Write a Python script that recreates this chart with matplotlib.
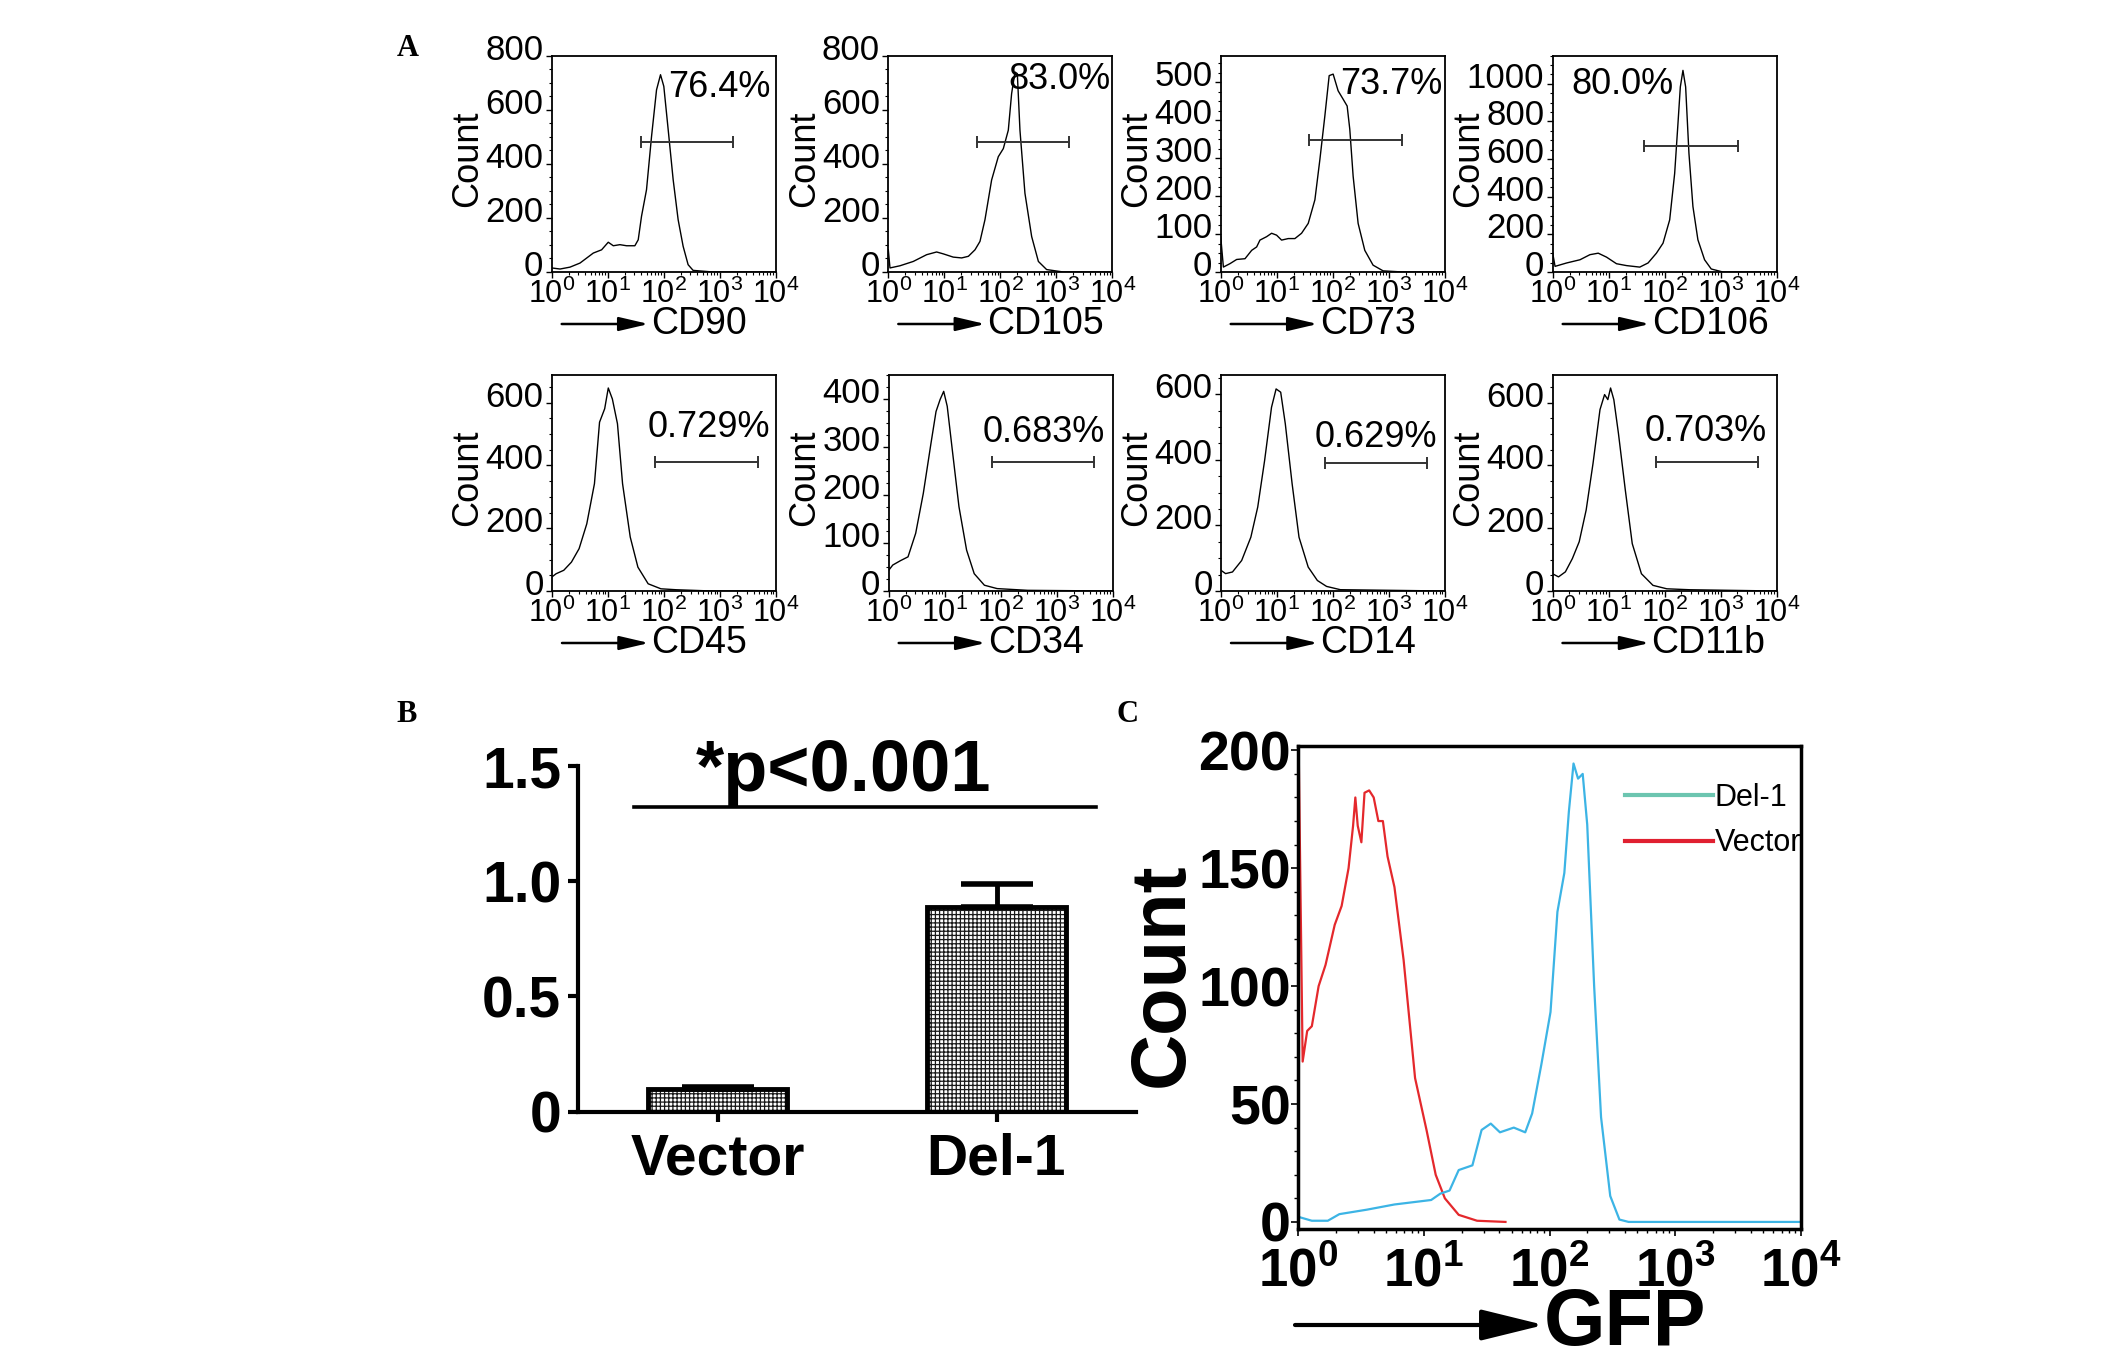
import numpy as np
import matplotlib
matplotlib.use('Agg')
import matplotlib.pyplot as plt
import matplotlib.transforms as mtransforms
from matplotlib.ticker import MultipleLocator, LogLocator, NullFormatter
from matplotlib.patches import FancyArrowPatch
from matplotlib.lines import Line2D

plt.rcParams['font.family'] = ['Liberation Sans', 'DejaVu Sans']
plt.rcParams['mathtext.fontset'] = 'custom'
plt.rcParams['mathtext.rm'] = 'Liberation Sans'
plt.rcParams['mathtext.bf'] = 'Liberation Sans:bold'
plt.rcParams['hatch.linewidth'] = 0.9

W, H = 2126, 1366

# ---------- A: flow histograms (x in decades of log10 fluorescence, y = count)
markers = ['CD90', 'CD105', 'CD73', 'CD106', 'CD45', 'CD34', 'CD14', 'CD11b']
percents = ['76.4%', '83.0%', '73.7%', '80.0%', '0.729%', '0.683%', '0.629%', '0.703%']

cd90_dec = [0, 0.149, 0.327, 0.505, 0.743, 0.891, 1.01, 1.1, 1.218, 1.337, 1.485, 1.545, 1.604, 1.693,
            1.783, 1.872, 1.943, 2.002, 2.08, 2.169, 2.258, 2.347, 2.436, 2.525, 2.88, 4.0]
cd90_cnt = [15, 11, 18, 33, 70, 82, 110, 97, 101, 97, 97, 119, 206, 304, 501, 673, 729, 686, 526, 341,
            193, 95, 27, 6, 0, 0]
cd105_dec = [0, 0.03, 0.208, 0.446, 0.685, 0.863, 0.982, 1.16, 1.31, 1.43, 1.548, 1.637, 1.726, 1.845,
             1.964, 2.054, 2.143, 2.202, 2.262, 2.304, 2.351, 2.44, 2.56, 2.68, 2.827, 3.125, 4.0]
cd105_cnt = [82, 15, 23, 39, 64, 74, 67, 55, 52, 58, 82, 113, 193, 340, 426, 456, 524, 659, 739, 733,
             524, 291, 131, 39, 9, 0, 0]
cd73_dec = [0, 0.048, 0.166, 0.285, 0.434, 0.553, 0.642, 0.701, 0.82, 0.909, 0.998, 1.087, 1.206, 1.325,
            1.444, 1.563, 1.682, 1.771, 1.86, 1.937, 2.008, 2.097, 2.186, 2.258, 2.305, 2.365, 2.454,
            2.573, 2.721, 2.9, 3.256, 4.0]
cd73_cnt = [93, 13, 22, 33, 35, 57, 66, 84, 93, 102, 97, 84, 88, 88, 102, 128, 190, 296, 411, 517, 521,
            477, 455, 437, 376, 252, 128, 57, 18, 3, 0, 0]
cd106_dec = [0, 0.042, 0.249, 0.487, 0.665, 0.813, 0.961, 1.139, 1.318, 1.555, 1.703, 1.852, 1.97,
             2.089, 2.178, 2.237, 2.279, 2.326, 2.374, 2.433, 2.504, 2.593, 2.712, 2.831, 3.039, 4.0]
cd106_cnt = [100, 30, 48, 65, 92, 100, 79, 44, 34, 26, 48, 100, 153, 277, 524, 789, 983, 1071, 983, 630,
             348, 171, 65, 16, 0, 0]
cd45_dec = [0, 0.073, 0.21, 0.347, 0.484, 0.621, 0.758, 0.849, 0.941, 1.005, 1.078, 1.169, 1.26, 1.397,
            1.534, 1.717, 1.945, 2.219, 2.858, 4.0]
cd45_cnt = [45, 55, 66, 92, 135, 214, 342, 538, 581, 647, 612, 533, 342, 172, 76, 23, 7, 4, 0, 0]
cd34_dec = [0, 0.073, 0.209, 0.345, 0.482, 0.618, 0.755, 0.845, 0.918, 0.982, 1.045, 1.136, 1.255,
            1.391, 1.527, 1.709, 1.936, 2.482, 4.0]
cd34_cnt = [43, 54, 63, 71, 120, 203, 307, 373, 398, 415, 384, 293, 175, 85, 36, 12, 5, 1.4, 0]
cd14_dec = [0, 0.082, 0.205, 0.369, 0.533, 0.656, 0.779, 0.902, 0.984, 1.066, 1.148, 1.27, 1.393,
            1.557, 1.721, 1.885, 2.131, 4.0]
cd14_cnt = [63, 53, 58, 93, 164, 256, 398, 560, 616, 606, 510, 327, 164, 73, 32, 14, 4, 0]
cd11b_dec = [0, 0.107, 0.23, 0.354, 0.477, 0.601, 0.724, 0.848, 0.93, 0.988, 1.037, 1.095, 1.177, 1.3,
             1.424, 1.588, 1.794, 2.041, 2.453, 4.0]
cd11b_cnt = [55, 45, 61, 103, 157, 258, 407, 578, 626, 610, 647, 610, 503, 322, 151, 55, 18, 7, 4, 0]

a_dec = [cd90_dec, cd105_dec, cd73_dec, cd106_dec, cd45_dec, cd34_dec, cd14_dec, cd11b_dec]
a_cnt = [cd90_cnt, cd105_cnt, cd73_cnt, cd106_cnt, cd45_cnt, cd34_cnt, cd14_cnt, cd11b_cnt]

gate_lo = [40, 38, 38, 42, 70, 70, 72, 70]
gate_hi = [1700, 1680, 1750, 2000, 4700, 4600, 4700, 4700]
gate_y = [482, 482, 348, 668, 411, 269, 390, 411]
y_max = [800, 800, 570, 1150, 690, 450, 660, 690]
y_step = [200, 200, 100, 200, 200, 100, 200, 200]

fl_ticks = [1, 10, 100, 1000, 10000]
fl_labels = [r'$\mathregular{10^0}$', r'$\mathregular{10^1}$', r'$\mathregular{10^2}$',
             r'$\mathregular{10^3}$', r'$\mathregular{10^4}$']
fl_labels_bold = [r'$\mathbf{10^0}$', r'$\mathbf{10^1}$', r'$\mathbf{10^2}$',
                  r'$\mathbf{10^3}$', r'$\mathbf{10^4}$']

# ---------- B: bar chart
groups = ['Vector', 'Del-1']
ratio = [0.098, 0.89]
ratio_err = [0.008, 0.098]
b_yticks = [0, 0.5, 1.0, 1.5]
b_ylabels = ['0', '0.5', '1.0', '1.5']

# ---------- C: GFP histograms
vec_dec = [0.0, 0.007, 0.037, 0.073, 0.11, 0.164, 0.219, 0.292, 0.347, 0.402, 0.438, 0.456, 0.475, 0.504,
           0.529, 0.566, 0.602, 0.639, 0.675, 0.712, 0.767, 0.84, 0.931, 1.022, 1.095, 1.168, 1.278,
           1.424, 1.65]
vec_cnt = [200, 194, 68, 81, 83, 100, 109, 126, 134, 150, 168, 180, 168, 161, 182, 183, 180, 170, 170,
           155, 142, 111, 61, 39, 20, 10, 3, 0.5, 0]
del_dec = [0.0, 0.11, 0.237, 0.329, 0.548, 0.767, 1.059, 1.132, 1.205, 1.278, 1.387, 1.46, 1.533, 1.606,
           1.716, 1.807, 1.862, 1.935, 2.008, 2.063, 2.118, 2.154, 2.191, 2.227, 2.264, 2.3, 2.355, 2.41,
           2.483, 2.556, 2.629, 4.0]
del_cnt = [2.2, 0.5, 0.5, 3.3, 5.2, 7.4, 9.3, 12, 13.3, 22, 24, 39, 41.7, 38, 40, 38, 46, 66.7, 89,
           131.5, 148, 174, 194.4, 188, 190, 168.5, 100, 44.4, 11, 1, 0, 0]
c_yticks = [0, 50, 100, 150, 200]


def fxy(x, y):
    # pixel position (from top-left) -> figure fraction
    return x / W, 1 - y / H


def add_ax(left, top, w, h):
    return fig.add_axes([left / W, 1 - (top + h) / H, w / W, h / H])


def arrow(x0, x1, y, lw, ms, hl, hw):
    fig.add_artist(FancyArrowPatch(fxy(x0, y), fxy(x1, y), transform=fig.transFigure,
                                   arrowstyle=f'-|>,head_length={hl},head_width={hw}',
                                   mutation_scale=ms, lw=lw, color='black',
                                   shrinkA=0, shrinkB=0))


fig = plt.figure(figsize=(W / 100, H / 100), dpi=100)
# FlowJo puts the count labels a little above their ticks
lift = mtransforms.ScaledTranslation(0, 9 / 100, fig.dpi_scale_trans)

a_left = [[551.7, 888.3, 1220.7, 1552.7], [552.0, 888.7, 1221.0, 1552.5]]
a_top = [55.5, 374.5]
a_w, a_h = 224, 216.5
pct_x = [0.975, 0.99, 0.988, 0.54, 0.973, 0.963, 0.964, 0.958]
pct_y = [0.85, 0.887, 0.864, 0.864, 0.753, 0.73, 0.71, 0.737]

for i, m in enumerate(markers):
    row, col = divmod(i, 4)
    l, t = a_left[row][col], a_top[row]
    ax = add_ax(l, t, a_w, a_h)
    ax.plot(10 ** np.array(a_dec[i]), a_cnt[i], color='black', lw=1.0)
    ax.plot([gate_lo[i], gate_hi[i]], [gate_y[i], gate_y[i]], color='#333333', lw=1.4,
            marker='|', ms=8, mew=1.4)
    ax.set_xscale('log')
    ax.set_xlim(1, 1e4)
    ax.set_ylim(0, y_max[i])
    ax.set_xticks(fl_ticks)
    ax.set_xticklabels(fl_labels, fontsize=22)
    ax.xaxis.set_minor_locator(LogLocator(base=10, subs=np.arange(2, 10)))
    ax.xaxis.set_minor_formatter(NullFormatter())
    yt = np.arange(0, y_max[i] + 1, y_step[i])
    ax.set_yticks(yt)
    ax.set_yticklabels([str(int(v)) for v in yt], fontsize=25)
    ax.yaxis.set_minor_locator(MultipleLocator(y_step[i] / 4))
    ax.tick_params(which='major', length=4, width=1, pad=2)
    ax.tick_params(axis='x', pad=1)
    ax.tick_params(which='minor', length=2, width=0.8)
    for lab in ax.get_yticklabels():
        lab.set_transform(lab.get_transform() + lift)
    for s in ax.spines.values():
        s.set_linewidth(1.3)
    ax.text(pct_x[i], pct_y[i], percents[i], transform=ax.transAxes, ha='right', va='center',
            fontsize=26)
    fig.text(*fxy(l - 84, t + 103), 'Count', rotation=90, ha='center', va='center', fontsize=26)
    yl = t + a_h + 52
    arrow(l + 10, l + 97, yl, 1.8, 12, 1.5, 0.35)
    fig.text(*fxy(l + 99, yl), m, ha='left', va='center', fontsize=27)

# ---------- panel B
axb = add_ax(578, 766, 558, 345.7)
xpos = np.arange(len(groups))
axb.bar(xpos, ratio, width=0.5, color='white', edgecolor='#1a1a1a', hatch='++++', linewidth=0,
        zorder=2)
axb.bar(xpos, ratio, width=0.5, fill=False, edgecolor='black', linewidth=3.5, zorder=3)
axb.errorbar(xpos, ratio, yerr=[[0, 0], ratio_err], fmt='none', ecolor='black', elinewidth=3.5,
             capsize=26, capthick=4, zorder=4)
axb.set_xlim(-0.5, 1.5)
axb.set_ylim(0, 1.5)
axb.set_xticks(xpos)
axb.set_xticklabels(groups, fontsize=41, fontweight='bold')
axb.set_yticks(b_yticks)
axb.set_yticklabels(b_ylabels, fontsize=41, fontweight='bold')
axb.tick_params(axis='both', length=7, width=3)
axb.tick_params(axis='x', pad=8)
axb.tick_params(axis='y', pad=5)
for s in ['top', 'right']:
    axb.spines[s].set_visible(False)
for s in ['left', 'bottom']:
    axb.spines[s].set_linewidth(3)
axb.plot([-0.30, 1.356], [1.323, 1.323], color='black', lw=2.6, clip_on=False)
axb.text(0.45, 1.393, '*p<0.001', ha='center', va='baseline', fontsize=52, fontweight='bold',
         clip_on=False)

# ---------- panel C
axc = add_ax(1298, 745.6, 503, 483.4)
axc.plot(10 ** np.array(vec_dec), vec_cnt, color='#e4282c', lw=1.6)
axc.plot(10 ** np.array(del_dec), del_cnt, color='#3cb4e5', lw=1.6)
axc.set_xscale('log')
axc.set_xlim(1, 1e4)
axc.set_ylim(-3, 202)
axc.set_xticks(fl_ticks)
axc.set_xticklabels(fl_labels_bold, fontsize=38)
axc.xaxis.set_minor_locator(LogLocator(base=10, subs=np.arange(2, 10)))
axc.xaxis.set_minor_formatter(NullFormatter())
axc.set_yticks(c_yticks)
axc.set_yticklabels([str(v) for v in c_yticks], fontsize=40, fontweight='bold')
axc.yaxis.set_minor_locator(MultipleLocator(10))
axc.tick_params(which='major', length=5, width=1.2)
axc.tick_params(axis='x', pad=8)
axc.tick_params(axis='y', pad=0)
axc.tick_params(which='minor', length=3, width=1)
for s in axc.spines.values():
    s.set_linewidth(2.5)
handles = [Line2D([], [], color='#6cc5b0', lw=3), Line2D([], [], color='#e02030', lw=3)]
axc.legend(handles, ['Del-1', 'Vector'], loc='upper left', bbox_to_anchor=(0.625, 0.948),
           frameon=False, fontsize=22, handlelength=2.9, handletextpad=0.05, labelspacing=0.5,
           borderaxespad=0)
fig.text(*fxy(1162, 975), 'Count', rotation=90, ha='center', va='center', fontsize=56,
         fontweight='bold')
arrow(1295, 1544, 1325, 3, 30, 1.3, 0.32)
fig.text(*fxy(1544, 1325), 'GFP', ha='left', va='center', fontsize=57, fontweight='bold')

# panel letters
for lab, (x, y) in zip(['A', 'B', 'C'], [(408, 48), (407, 715), (1128, 715)]):
    fig.text(*fxy(x, y), lab, ha='center', va='center', fontsize=22, fontweight='bold',
             family='Liberation Serif')

fig.savefig('out.png', dpi=100)
